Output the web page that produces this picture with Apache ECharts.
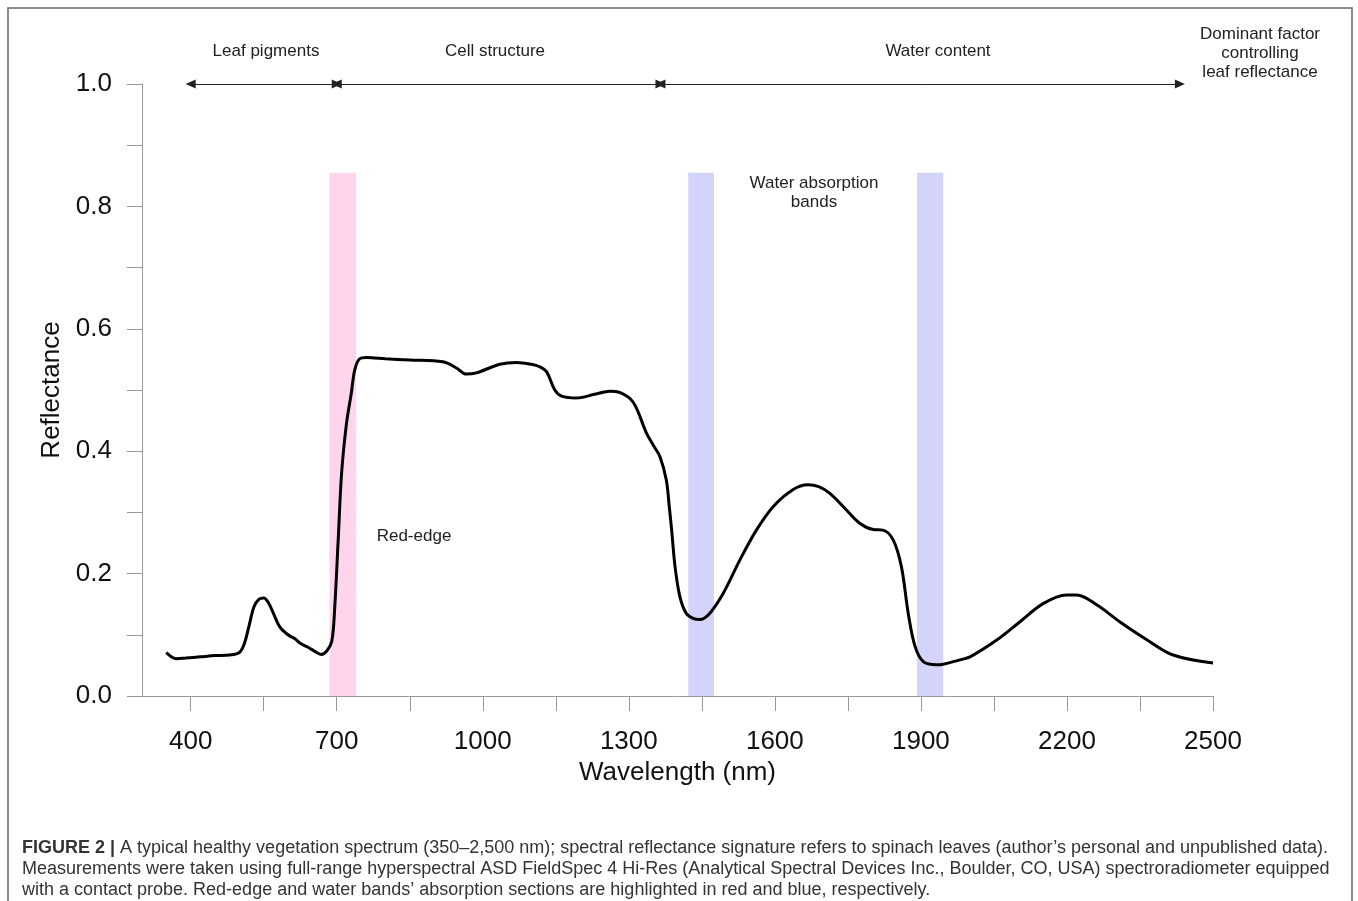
<!DOCTYPE html>
<html>
<head>
<meta charset="utf-8">
<script src="https://cdn.jsdelivr.net/npm/echarts@6/dist/echarts.min.js"></script>
<style>
html,body{margin:0;padding:0;background:#fff;}
#chart{width:1358px;height:901px;}
</style>
</head>
<body>
<div id="chart"></div>
<script>
// Wavelength (nm) and reflectance
var wavelength = [350,360,370,390,420,450,480,500,510,520,530,540,550,560,570,583,600,615,625,640,655,668,680,690,696,703,710,720,730,737,747,761,800,850,918,946,966,987,1035,1069,1100,1117,1131,1148,1162,1192,1230,1261,1281,1309,1336,1350,1364,1377,1383,1388,1395,1405,1418,1432,1446,1466,1494,1528,1562,1596,1637,1668,1690,1713,1747,1775,1802,1822,1843,1860,1874,1888,1905,1932,1946,1980,2001,2055,2103,2151,2199,2220,2261,2309,2364,2418,2500];
var reflectance = [0.071,0.064,0.061,0.062,0.064,0.066,0.067,0.071,0.085,0.115,0.146,0.158,0.160,0.152,0.135,0.113,0.100,0.093,0.086,0.080,0.073,0.068,0.074,0.090,0.146,0.255,0.364,0.445,0.495,0.533,0.551,0.553,0.551,0.549,0.546,0.536,0.526,0.528,0.542,0.545,0.542,0.538,0.530,0.500,0.490,0.487,0.493,0.498,0.496,0.480,0.430,0.410,0.391,0.353,0.310,0.271,0.211,0.162,0.135,0.127,0.125,0.135,0.168,0.222,0.271,0.309,0.337,0.345,0.342,0.331,0.304,0.282,0.272,0.271,0.255,0.211,0.135,0.081,0.056,0.051,0.052,0.059,0.064,0.091,0.121,0.151,0.165,0.165,0.149,0.121,0.092,0.067,0.054];

var xTickValues = [400,550,700,850,1000,1150,1300,1450,1600,1750,1900,2050,2200,2350,2500];
var xLabelValues = [400,700,1000,1300,1600,1900,2200,2500];
var yLabelValues = [0,0.2,0.4,0.6,0.8,1.0];

// highlighted bands [from, to] in nm
var redEdgeBand = [685, 740];
var waterBands = [[1422, 1475], [1892, 1946]];
var bandTop = 0.855;

// top annotation segments (nm) at reflectance 1.0
var segments = [[400, 700], [700, 1365], [1365, 2432]];
var segmentLabels = ['Leaf pigments', 'Cell structure', 'Water content'];

var chart = echarts.init(document.getElementById('chart'));
var font = '"Liberation Sans", Arial, Helvetica, sans-serif';

var lineData = wavelength.map(function (w, i) { return [w, reflectance[i]]; });

var areas = [[{xAxis: redEdgeBand[0], yAxis: 0, itemStyle: {color: 'rgba(255,115,195,0.3)'}}, {xAxis: redEdgeBand[1], yAxis: bandTop}]];
waterBands.forEach(function (b) {
  areas.push([{xAxis: b[0], yAxis: 0, itemStyle: {color: 'rgba(112,112,238,0.3)'}}, {xAxis: b[1], yAxis: bandTop}]);
});

var arrowLines = segments.map(function (s) {
  return [{coord: [s[0], 1.0]}, {coord: [s[1], 1.0]}];
});

var option = {
  animation: false,
  backgroundColor: '#fff',
  grid: {left: 142, right: 145, top: 84, bottom: 205, containLabel: false},
  xAxis: {
    type: 'value', min: 300, max: 2500,
    name: 'Wavelength (nm)', nameLocation: 'middle', nameGap: 63,
    nameTextStyle: {fontFamily: font, fontSize: 26, color: '#111'},
    axisLine: {show: true, lineStyle: {color: '#999', width: 1}},
    axisTick: {show: true, length: 15, customValues: xTickValues, lineStyle: {color: '#999'}},
    axisLabel: {customValues: xLabelValues, margin: 33, fontFamily: font, fontSize: 26, color: '#111',
      formatter: function (v) { return String(v); }},
    splitLine: {show: false}
  },
  yAxis: {
    type: 'value', min: 0, max: 1, interval: 0.1,
    name: 'Reflectance', nameLocation: 'middle', nameGap: 70, nameRotate: 90,
    nameTextStyle: {fontFamily: font, fontSize: 26, color: '#111'},
    axisLine: {show: true, lineStyle: {color: '#999', width: 1}},
    axisTick: {show: true, length: 15, lineStyle: {color: '#999'}},
    axisLabel: {customValues: yLabelValues, margin: 30, fontFamily: font, fontSize: 26, color: '#111',
      formatter: function (v) { return v.toFixed(1); }},
    splitLine: {show: false}
  },
  series: [
    {
      type: 'line', data: lineData, showSymbol: false, symbol: 'none',
      smooth: 0.35,
      lineStyle: {color: '#000', width: 3},
      z: 2,
      markLine: {
        silent: true, symbol: ['triangle', 'triangle'], symbolSize: [9, 10],
        lineStyle: {color: '#222', width: 1, type: 'solid'},
        label: {show: false},
        data: arrowLines
      }
    },
    {
      type: 'line', data: [], z: 5,
      markArea: {silent: true, data: areas}
    }
  ],
  graphic: [
    {type: 'rect', shape: {x: 8, y: 8, width: 1344, height: 1000}, style: {fill: 'none', stroke: '#666', lineWidth: 1.5}, silent: true},
    {type: 'text', x: 266, y: 51, style: {text: segmentLabels[0], font: '17px ' + font, fill: '#222', textAlign: 'center', textVerticalAlign: 'middle'}},
    {type: 'text', x: 495, y: 51, style: {text: segmentLabels[1], font: '17px ' + font, fill: '#222', textAlign: 'center', textVerticalAlign: 'middle'}},
    {type: 'text', x: 938, y: 51, style: {text: segmentLabels[2], font: '17px ' + font, fill: '#222', textAlign: 'center', textVerticalAlign: 'middle'}},
    {type: 'text', x: 1260, y: 53, style: {text: 'Dominant factor\ncontrolling\nleaf reflectance', font: '17px ' + font, lineHeight: 19, fill: '#222', textAlign: 'center', textVerticalAlign: 'middle'}},
    {type: 'text', x: 814, y: 193, style: {text: 'Water absorption\nbands', font: '17px ' + font, lineHeight: 19, fill: '#222', textAlign: 'center', textVerticalAlign: 'middle'}},
    {type: 'text', x: 414, y: 536, style: {text: 'Red-edge', font: '17px ' + font, fill: '#222', textAlign: 'center', textVerticalAlign: 'middle'}},
    {type: 'text', x: 22, y: 848, style: {
      text: '{b|FIGURE 2 |} A typical healthy vegetation spectrum (350–2,500 nm); spectral reflectance signature refers to spinach leaves (author’s personal and unpublished data).',
      font: '18px ' + font, fill: '#333', textVerticalAlign: 'middle',
      rich: {b: {fontWeight: 'bold', fontSize: 18, fontFamily: font, fill: '#333'}}
    }},
    {type: 'text', x: 22, y: 869, style: {text: 'Measurements were taken using full-range hyperspectral ASD FieldSpec 4 Hi-Res (Analytical Spectral Devices Inc., Boulder, CO, USA) spectroradiometer equipped', font: '18px ' + font, fill: '#333', textVerticalAlign: 'middle'}},
    {type: 'text', x: 22, y: 890, style: {text: 'with a contact probe. Red-edge and water bands’ absorption sections are highlighted in red and blue, respectively.', font: '18px ' + font, fill: '#333', textVerticalAlign: 'middle'}}
  ]
};
chart.setOption(option);
</script>
</body>
</html>
